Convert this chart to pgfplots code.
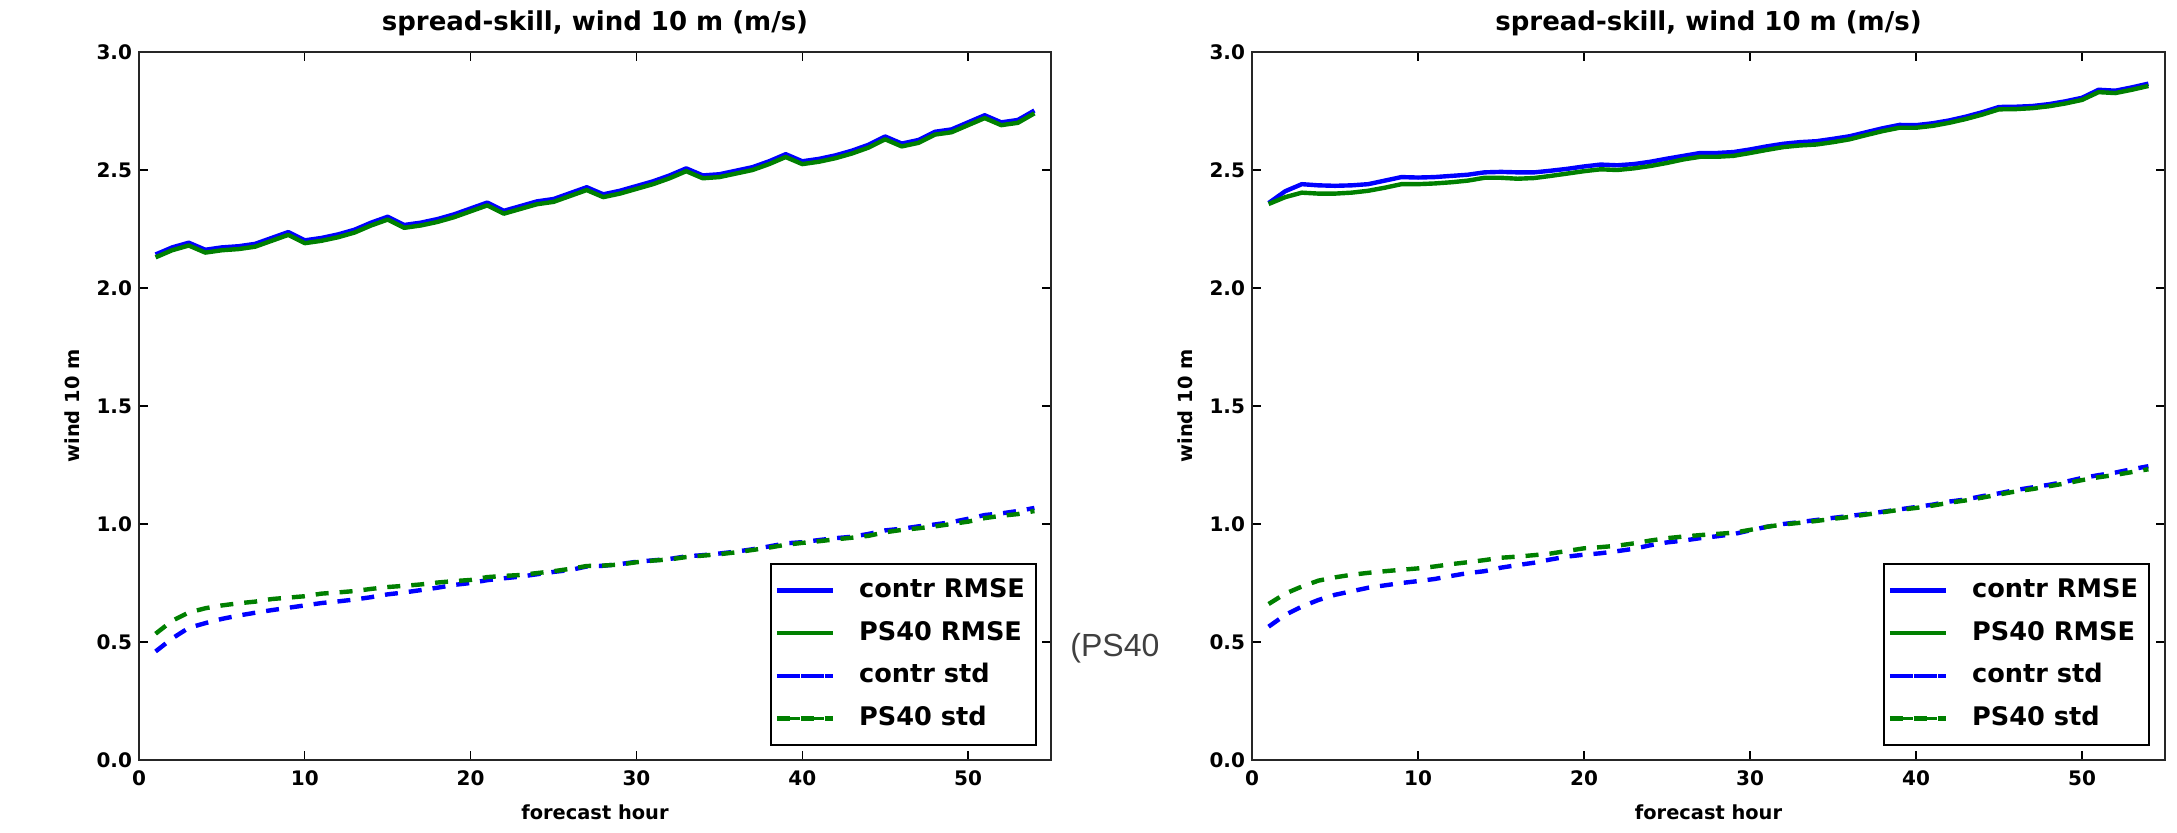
\documentclass[border=0pt]{standalone}
\usepackage{fontspec}
\setmainfont{DejaVu Sans}
\newfontfamily\psfont{Liberation Sans}
\usepackage{pgfplots}
\usepackage{pgfplotstable}
\pgfplotsset{compat=1.18}
\definecolor{mblue}{rgb}{0,0,1}
\definecolor{mgreen}{rgb}{0,0.5,0}
\newcommand\fs[1]{\fontsize{#1}{#1}\selectfont\bfseries}

\pgfplotstableread{
h cR pR cS pS
1 2.142 2.13 0.46 0.535
2 2.172 2.16 0.515 0.59
3 2.192 2.18 0.56 0.625
4 2.162 2.15 0.58 0.643
5 2.172 2.16 0.598 0.655
6 2.177 2.165 0.612 0.664
7 2.187 2.175 0.624 0.671
8 2.212 2.20 0.635 0.682
9 2.237 2.225 0.645 0.688
10 2.202 2.19 0.655 0.694
11 2.212 2.20 0.665 0.705
12 2.227 2.215 0.672 0.71
13 2.247 2.235 0.68 0.716
14 2.277 2.265 0.69 0.725
15 2.302 2.29 0.702 0.733
16 2.267 2.255 0.71 0.738
17 2.277 2.265 0.72 0.744
18 2.292 2.28 0.73 0.752
19 2.312 2.30 0.742 0.758
20 2.337 2.325 0.75 0.763
21 2.362 2.35 0.762 0.775
22 2.327 2.315 0.77 0.78
23 2.347 2.335 0.777 0.784
24 2.367 2.355 0.787 0.792
25 2.377 2.365 0.797 0.80
26 2.402 2.39 0.805 0.81
27 2.427 2.415 0.82 0.822
28 2.397 2.385 0.823 0.824
29 2.412 2.40 0.83 0.828
30 2.432 2.42 0.84 0.838
31 2.452 2.44 0.846 0.845
32 2.477 2.465 0.852 0.85
33 2.507 2.495 0.863 0.86
34 2.477 2.465 0.868 0.866
35 2.482 2.47 0.875 0.872
36 2.497 2.485 0.883 0.88
37 2.512 2.50 0.893 0.89
38 2.537 2.525 0.905 0.90
39 2.567 2.555 0.918 0.912
40 2.537 2.525 0.923 0.92
41 2.547 2.535 0.932 0.927
42 2.562 2.55 0.94 0.935
43 2.582 2.57 0.946 0.942
44 2.607 2.595 0.958 0.95
45 2.642 2.63 0.973 0.965
46 2.612 2.60 0.98 0.975
47 2.627 2.615 0.99 0.982
48 2.662 2.65 0.998 0.99
49 2.672 2.66 1.008 1.0
50 2.702 2.69 1.022 1.01
51 2.732 2.72 1.038 1.025
52 2.702 2.69 1.045 1.035
53 2.712 2.70 1.055 1.042
54 2.752 2.74 1.068 1.055
}\tabL

\pgfplotstableread{
h cR pR cS pS
1 2.36 2.356 0.565 0.661
2 2.41 2.385 0.615 0.705
3 2.44 2.404 0.65 0.735
4 2.435 2.40 0.678 0.76
5 2.433 2.40 0.70 0.774
6 2.435 2.404 0.715 0.785
7 2.44 2.412 0.73 0.793
8 2.455 2.425 0.74 0.80
9 2.47 2.44 0.75 0.806
10 2.468 2.44 0.758 0.812
11 2.47 2.443 0.767 0.82
12 2.475 2.448 0.78 0.83
13 2.48 2.455 0.792 0.838
14 2.49 2.467 0.80 0.847
15 2.492 2.467 0.815 0.857
16 2.49 2.463 0.826 0.862
17 2.49 2.466 0.836 0.868
18 2.497 2.475 0.85 0.875
19 2.505 2.485 0.862 0.886
20 2.515 2.495 0.87 0.897
21 2.523 2.503 0.876 0.902
22 2.52 2.50 0.885 0.908
23 2.525 2.507 0.895 0.918
24 2.535 2.517 0.91 0.93
25 2.548 2.53 0.922 0.94
26 2.56 2.545 0.93 0.947
27 2.572 2.556 0.94 0.953
28 2.572 2.556 0.948 0.958
29 2.576 2.56 0.957 0.963
30 2.587 2.572 0.973 0.975
31 2.60 2.585 0.988 0.988
32 2.611 2.597 1.0 0.998
33 2.618 2.604 1.008 1.005
34 2.622 2.608 1.017 1.013
35 2.632 2.618 1.026 1.022
36 2.643 2.63 1.034 1.03
37 2.66 2.648 1.043 1.04
38 2.677 2.665 1.052 1.05
39 2.691 2.679 1.062 1.06
40 2.69 2.679 1.072 1.068
41 2.698 2.687 1.082 1.078
42 2.71 2.70 1.095 1.09
43 2.726 2.716 1.104 1.10
44 2.745 2.735 1.118 1.112
45 2.767 2.757 1.13 1.125
46 2.768 2.758 1.144 1.138
47 2.771 2.762 1.155 1.148
48 2.779 2.77 1.166 1.16
49 2.791 2.782 1.179 1.172
50 2.806 2.797 1.195 1.186
51 2.84 2.83 1.207 1.198
52 2.836 2.826 1.218 1.208
53 2.85 2.84 1.232 1.22
54 2.866 2.856 1.245 1.232
}\tabR

\pgfplotsset{
  spread/.style={
    scale only axis, width=456pt, height=354pt,
    xmin=0, xmax=55, ymin=0, ymax=3,
    xtick={0,10,...,50}, ytick={0,0.5,...,3},
    tick align=inside, major tick length=4.6pt,
    every tick/.style={black, line width=0.6pt},
    axis line style={line width=1pt, black!85},
    /pgf/number format/assume math mode=true,
    yticklabel style={/pgf/number format/.cd, fixed, fixed zerofill, precision=1},
    ticklabel style={font=\fs{10}},
    xticklabel style={yshift=-2pt},
    title={spread-skill, wind 10 m (m/s)},
    title style={at={(axis description cs:0.5,1.0141)}, anchor=base, font=\fs{13}},
    xlabel={forecast hour}, ylabel={wind 10 m},
    xlabel style={at={(axis description cs:0.5,-0.0847)}, anchor=base, font=\fs{9.7}},
    ylabel style={at={(axis description cs:-0.0647,0.5)}, anchor=base, font=\fs{9.7}},
    legend cell align=left,
    legend style={anchor=south east, draw=black, line width=1pt,
      font=\fs{12.8},
      inner xsep=2pt, inner ysep=2.65pt, column sep=8.5pt,
      nodes={inner xsep=3.5pt, inner ysep=4.65pt, text height=9.5pt, text depth=2.5pt}},
  },
  rmse/.style={line width=2.2pt, line join=round,
    legend image code/.code={\path (0pt,0pt) -- (28pt,0pt);
      \draw[##1, line width=1.8pt, line cap=butt] (5pt,0pt) -- (28pt,0pt);}},
  std/.style={line width=2.2pt, dash pattern=on 6.5pt off 5.5pt,
    legend image code/.code={\path (0pt,0pt) -- (28pt,0pt);
      \draw[##1, solid, line width=1.8pt, line cap=butt] (5pt,0pt) -- (11.5pt,0pt) (17pt,0pt) -- (23.5pt,0pt);}},
}

\begin{document}
\begin{tikzpicture}
\useasboundingbox (0,0) rectangle (1088.5pt,416pt);
\begin{axis}[spread, at={(69.5pt,36pt)}, anchor=south west,
  legend style={at={(0.9846,0.0198)}}]
  \addplot[mblue, rmse] table[x=h, y=cR]{\tabL};
  \addplot[mgreen, rmse] table[x=h, y=pR]{\tabL};
  \addplot[mblue, std] table[x=h, y=cS]{\tabL};
  \addplot[mgreen, std] table[x=h, y=pS]{\tabL};
  \legend{contr RMSE, PS40 RMSE, contr std, PS40 std}
\end{axis}
\begin{axis}[spread, at={(626pt,36pt)}, anchor=south west, width=456.5pt,
  legend style={at={(0.9836,0.0198)}}]
  \addplot[mblue, rmse] table[x=h, y=cR]{\tabR};
  \addplot[mgreen, rmse] table[x=h, y=pR]{\tabR};
  \addplot[mblue, std] table[x=h, y=cS]{\tabR};
  \addplot[mgreen, std] table[x=h, y=pS]{\tabR};
  \legend{contr RMSE, PS40 RMSE, contr std, PS40 std}
\end{axis}
\node[anchor=base west, inner sep=0pt, text=black!75, font=\psfont\fontsize{16}{19}\selectfont] at (535pt,88pt) {(PS40};
\end{tikzpicture}
\end{document}
